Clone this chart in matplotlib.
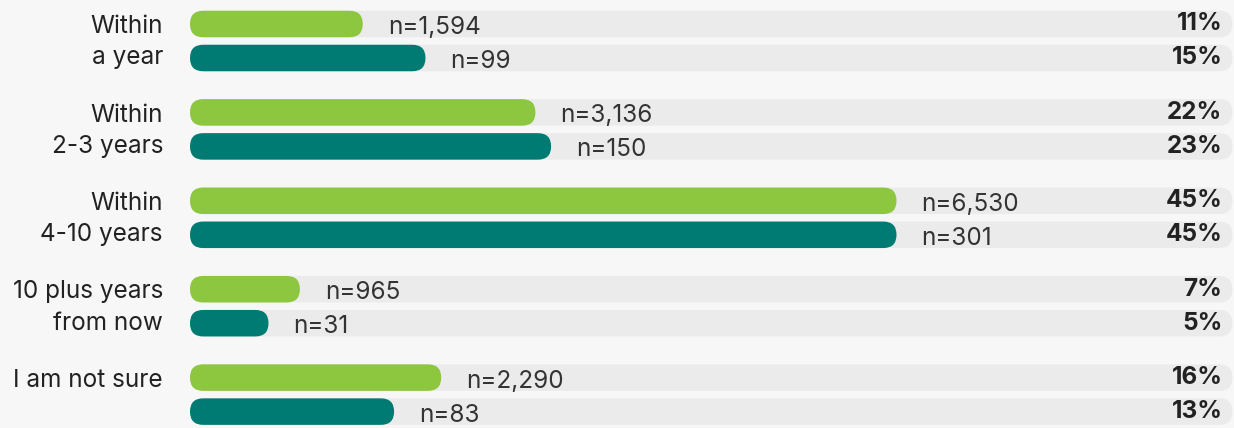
import matplotlib
matplotlib.use("Agg")
import matplotlib.pyplot as plt
from matplotlib.patches import FancyBboxPatch

# survey answers: two respondent groups per category
label_top = ["Within", "Within", "Within", "10 plus years", "I am not sure"]
label_bottom = ["a year", "2-3 years", "4-10 years", "from now", ""]
pct_green = [11, 22, 45, 7, 16]
pct_teal = [15, 23, 45, 5, 13]
n_green = ["1,594", "3,136", "6,530", "965", "2,290"]
n_teal = ["99", "150", "301", "31", "83"]

GREEN = "#8dc63f"
TEAL = "#007b73"
TRACK = "#ebebeb"
BG = "#f7f7f7"
TXT = "#222222"

W, H, DPI = 1234, 428, 100
PX_PER_PCT = 15.7     # horizontal scale
PX_PER_ROW = 34.0     # distance between paired bars
GROUP_STEP = 2.6      # rows between category starts
BAR_H = 0.78          # rows
TRACK_END = 66.4      # percent units
FS = 17.5

plt.rcParams["font.family"] = ["Inter", "DejaVu Sans"]

fig = plt.figure(figsize=(W / DPI, H / DPI), dpi=DPI, facecolor=BG)
ax = fig.add_axes([0, 0, 1, 1])
ax.set_facecolor(BG)
x0 = -190 / PX_PER_PCT
ax.set_xlim(x0, x0 + W / PX_PER_PCT)
y0 = -24 / PX_PER_ROW
ax.set_ylim(y0 + H / PX_PER_ROW, y0)
ax.axis("off")

aspect = (1 / PX_PER_ROW) / (1 / PX_PER_PCT)
radius = BAR_H / 2 / aspect


def pill(x_end, yc, color, z):
    p = FancyBboxPatch((0, yc - BAR_H / 2), x_end, BAR_H,
                       boxstyle=f"round,pad=0,rounding_size={radius}",
                       mutation_aspect=aspect, fc=color, ec="none", zorder=z)
    ax.add_patch(p)


for i in range(len(label_top)):
    yg = i * GROUP_STEP
    yt = yg + 1
    for y, pct, n, col in ((yg, pct_green[i], n_green[i], GREEN),
                           (yt, pct_teal[i], n_teal[i], TEAL)):
        pill(TRACK_END, y, TRACK, 1)
        pill(pct, y, col, 2)
        ax.text(pct + 25 / PX_PER_PCT, y + 0.1, f"n={n}", ha="left", va="center",
                fontsize=FS, color="#333333", zorder=3)
        ax.text(TRACK_END - 10 / PX_PER_PCT, y, f"{pct}%", ha="right", va="center",
                fontsize=FS, fontweight="bold", color=TXT, zorder=3)
    ax.text(-27 / PX_PER_PCT, yg + 0.08, label_top[i], ha="right", va="center",
            fontsize=FS, color=TXT)
    if label_bottom[i]:
        ax.text(-27 / PX_PER_PCT, yt, label_bottom[i], ha="right", va="center",
                fontsize=FS, color=TXT)

fig.savefig("out.png", dpi=DPI, facecolor=BG)
